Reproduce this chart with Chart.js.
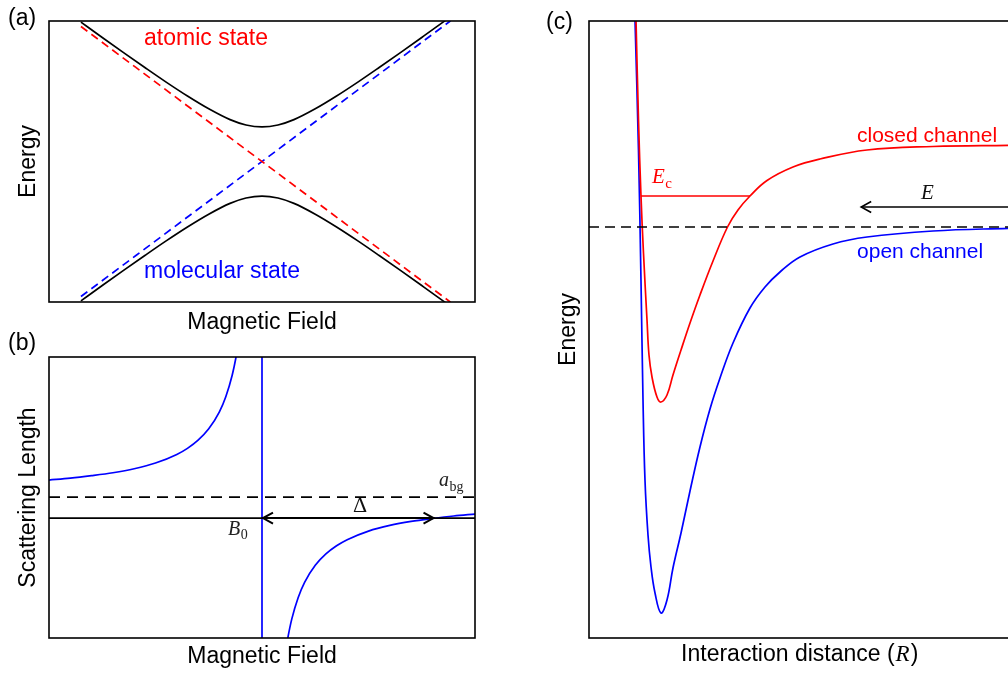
<!DOCTYPE html>
<html>
<head>
<meta charset="utf-8">
<script src="https://cdn.jsdelivr.net/npm/chart.js@4/dist/chart.umd.min.js"></script>
<style>
  body { margin: 0; width: 1008px; height: 673px; overflow: hidden; background: #fff; position: relative; }
  canvas { position: absolute; }
</style>
</head>
<body>
<canvas id="chartA" width="480" height="340" style="left:0;top:0"></canvas>
<canvas id="chartB" width="480" height="343" style="left:0;top:330px"></canvas>
<canvas id="chartC" width="500" height="673" style="left:540px;top:0"></canvas>
<script>
// (a) avoided crossing of atomic and molecular levels
const fieldA = [-0.85, -0.75, -0.65, -0.55, -0.45, -0.35, -0.25, -0.15, -0.075, 0, 0.075, 0.15, 0.25, 0.35, 0.45, 0.55, 0.65, 0.75, 0.85, 0.885];
const upperLevel = [0.992, 0.883, 0.775, 0.669, 0.565, 0.466, 0.375, 0.298, 0.260, 0.246, 0.260, 0.298, 0.375, 0.466, 0.565, 0.669, 0.775, 0.883, 0.992, 1.031];
const lowerLevel = upperLevel.map(v => -v);
const bareField = [-0.85, 0.885];
const atomicLevel = [0.961, -1.001];
const molecularLevel = [-0.961, 1.001];

// (b) scattering length across the resonance
const fieldLeft = [-1, -0.9, -0.8, -0.7, -0.6, -0.5, -0.4, -0.35, -0.3, -0.25, -0.2, -0.17, -0.14, -0.12, -0.11];
const scatLeft = [1.81, 1.9, 2.02, 2.16, 2.35, 2.62, 3.03, 3.32, 3.71, 4.25, 5.06, 5.78, 6.8, 7.77, 8.38];
const fieldRight = [0.11, 0.12, 0.14, 0.17, 0.2, 0.25, 0.3, 0.35, 0.4, 0.5, 0.6, 0.7, 0.8, 0.9, 1.0];
const scatRight = [-6.38, -5.77, -4.8, -3.78, -3.06, -2.25, -1.71, -1.32, -1.03, -0.62, -0.35, -0.16, -0.02, 0.1, 0.19];
const B0 = 0;
const widthDelta = 0.81;
const aBg = 1;
const scatRange = [-5.71, 7.67];

// (c) open and closed channel potentials
const distOpen = [1.070, 1.151, 1.209, 1.256, 1.302, 1.372, 1.442, 1.535, 1.674, 1.814, 1.953, 2.140, 2.349, 2.581, 2.814, 3.047, 3.349, 3.744, 4.093, 4.442, 4.907, 5.674, 6.465, 8.0, 9.744, 10];
const energyOpen = [2.07, 0.77, -0.53, -1.73, -2.53, -3.08, -3.40, -3.66, -3.86, -3.73, -3.41, -3.06, -2.64, -2.20, -1.82, -1.51, -1.16, -0.81, -0.60, -0.45, -0.30, -0.17, -0.10, -0.04, -0.013, -0.012];
const distClosed = [1.093, 1.151, 1.209, 1.267, 1.349, 1.395, 1.465, 1.581, 1.674, 1.814, 1.953, 2.140, 2.349, 2.581, 2.884, 3.221, 3.465, 3.744, 4.140, 4.744, 5.372, 6.465, 8.0, 9.744, 10];
const energyClosed = [2.07, 1.07, 0.31, -0.26, -0.93, -1.28, -1.50, -1.70, -1.75, -1.68, -1.48, -1.23, -0.96, -0.68, -0.34, 0, 0.17, 0.31, 0.465, 0.60, 0.68, 0.77, 0.805, 0.817, 0.818];
const boundEnergy = 0.31;
const boundRange = [1.209, 3.744];
const collisionEnergy = 0.20;
const arrowStart = 6.33;
const energyRange = [-4.11, 2.06];

const sans = '"Liberation Sans", Arial, sans-serif';
const serif = '"Liberation Serif", "DejaVu Serif", serif';

function pts(xs, ys) {
  return xs.map((x, i) => ({ x: x, y: ys[i] }));
}

function curve(xs, ys, color, dash, smooth) {
  const ds = {
    data: pts(xs, ys),
    borderColor: color,
    borderWidth: 1.7,
    borderDash: dash || [],
    pointRadius: 0,
    fill: false
  };
  if (smooth) ds.tension = smooth;
  else ds.cubicInterpolationMode = 'monotone';
  return ds;
}

function axis(min, max, title, pad) {
  return {
    type: 'linear',
    min: min,
    max: max,
    ticks: { display: false },
    grid: { display: false, drawTicks: false },
    border: { display: false },
    title: {
      display: !!title,
      text: title,
      color: '#000',
      font: { family: sans, size: 23 },
      padding: pad
    }
  };
}

function text(ctx, s, x, y, font, color, align) {
  ctx.font = font;
  ctx.fillStyle = color;
  ctx.textAlign = align || 'left';
  ctx.textBaseline = 'alphabetic';
  ctx.fillText(s, x, y);
}

function mathText(ctx, main, sub, x, y, size, color) {
  ctx.fillStyle = color;
  ctx.textAlign = 'left';
  ctx.textBaseline = 'alphabetic';
  ctx.font = 'italic ' + size + 'px ' + serif;
  ctx.fillText(main, x, y);
  if (sub) {
    const w = ctx.measureText(main).width;
    ctx.font = Math.round(size * 0.72) + 'px ' + serif;
    ctx.fillText(sub, x + w + 0.5, y + size * 0.22);
  }
}

// open chevron head; dir = 1 points left, -1 points right
function head(ctx, x, y, dir) {
  ctx.beginPath();
  ctx.moveTo(x + dir * 10, y - 5.5);
  ctx.lineTo(x, y);
  ctx.lineTo(x + dir * 10, y + 5.5);
  ctx.stroke();
}

function frame(notes) {
  return {
    id: 'frame',
    afterDatasetsDraw(chart) {
      const { ctx, chartArea: a, scales } = chart;
      ctx.save();
      ctx.strokeStyle = '#000';
      ctx.lineWidth = 1.6;
      ctx.strokeRect(a.left, a.top, a.right - a.left, a.bottom - a.top);
      notes(ctx, scales.x, scales.y);
      ctx.restore();
    }
  };
}

function baseOptions(scales, padding) {
  return {
    responsive: false,
    animation: false,
    layout: { padding: padding },
    plugins: { legend: { display: false }, tooltip: { enabled: false } },
    scales: scales
  };
}

new Chart(document.getElementById('chartA'), {
  type: 'line',
  data: {
    datasets: [
      curve(bareField, atomicLevel, '#ff0000', [8, 5]),
      curve(bareField, molecularLevel, '#0000ff', [8, 5]),
      curve(fieldA, upperLevel, '#000'),
      curve(fieldA, lowerLevel, '#000')
    ]
  },
  options: baseOptions({
    x: axis(-1, 1, 'Magnetic Field', { top: 7, bottom: 0 }),
    y: axis(-1, 1, 'Energy', { top: 4, bottom: 7 })
  }, { left: 10.4, right: 5, top: 21, bottom: 3.4 }),
  plugins: [frame((ctx, x, y) => {
    text(ctx, '(a)', 8, 25, '23px ' + sans, '#000');
    text(ctx, 'atomic state', x.getPixelForValue(-0.554), y.getPixelForValue(0.829), '23px ' + sans, '#ff0000');
    text(ctx, 'molecular state', x.getPixelForValue(-0.554), y.getPixelForValue(-0.829), '23px ' + sans, '#0000ff');
  })]
});

new Chart(document.getElementById('chartB'), {
  type: 'line',
  data: {
    datasets: [
      curve([-1, 1], [aBg, aBg], '#000', [11, 7]),
      curve([-1, 1], [0, 0], '#000'),
      curve([B0, B0], scatRange, '#0000ff'),
      curve(fieldLeft, scatLeft, '#0000ff'),
      curve(fieldRight, scatRight, '#0000ff')
    ]
  },
  options: baseOptions({
    x: axis(-1, 1, 'Magnetic Field', { top: 4.6, bottom: 0 }),
    y: axis(scatRange[0], scatRange[1], 'Scattering Length', { top: 4, bottom: 7 })
  }, { left: 10.4, right: 5, top: 27, bottom: 2.8 }),
  plugins: [frame((ctx, x, y) => {
    text(ctx, '(b)', 8, 20, '23px ' + sans, '#000');
    const y0 = y.getPixelForValue(0);
    const xa = x.getPixelForValue(B0);
    const xb = x.getPixelForValue(B0 + widthDelta);
    ctx.strokeStyle = '#000';
    ctx.lineWidth = 2;
    ctx.beginPath();
    ctx.moveTo(xa, y0);
    ctx.lineTo(xb, y0);
    ctx.stroke();
    head(ctx, xa + 1, y0, 1);
    head(ctx, xb - 1, y0, -1);
    text(ctx, '\u0394', x.getPixelForValue(0.46), y.getPixelForValue(0.29), '22px ' + serif, '#111', 'center');
    mathText(ctx, 'B', '0', x.getPixelForValue(-0.16), y.getPixelForValue(-0.81), 20, '#222');
    mathText(ctx, 'a', 'bg', x.getPixelForValue(0.831), y.getPixelForValue(1.52), 20, '#222');
  })]
});

new Chart(document.getElementById('chartC'), {
  type: 'line',
  data: {
    datasets: [
      curve([0, 10], [0, 0], '#000', [10, 6]),
      curve(boundRange, [boundEnergy, boundEnergy], '#ff0000'),
      curve(distClosed, energyClosed, '#ff0000', null, 0.4),
      curve(distOpen, energyOpen, '#0000ff', null, 0.4)
    ]
  },
  options: baseOptions({
    x: axis(0, 10, '', 0),
    y: axis(energyRange[0], energyRange[1], 'Energy', { top: 4, bottom: 7 })
  }, { left: 10.4, right: 21, top: 21, bottom: 35 }),
  plugins: [frame((ctx, x, y) => {
    text(ctx, '(c)', 6, 29, '23px ' + sans, '#000');
    text(ctx, 'closed channel', x.getPixelForValue(6.233), y.getPixelForValue(0.85), '21px ' + sans, '#ff0000');
    text(ctx, 'open channel', x.getPixelForValue(6.233), y.getPixelForValue(-0.31), '21px ' + sans, '#0000ff');
    mathText(ctx, 'E', 'c', x.getPixelForValue(1.465), y.getPixelForValue(0.44), 21, '#ff0000');
    mathText(ctx, 'E', '', x.getPixelForValue(7.72), y.getPixelForValue(0.28), 21, '#111');
    const ye = y.getPixelForValue(collisionEnergy);
    const xs = x.getPixelForValue(arrowStart);
    ctx.strokeStyle = '#000';
    ctx.lineWidth = 1.6;
    ctx.beginPath();
    ctx.moveTo(x.getPixelForValue(10), ye);
    ctx.lineTo(xs, ye);
    ctx.stroke();
    head(ctx, xs, ye, 1);

    // x axis title with an italic R
    const base = y.bottom + 23;
    ctx.font = '23px ' + sans;
    const p1 = 'Interaction distance (';
    const w1 = ctx.measureText(p1).width;
    const w3 = ctx.measureText(')').width;
    ctx.font = 'italic 23px ' + serif;
    const w2 = ctx.measureText('R').width + 2;
    const left = x.getPixelForValue(4.9) - (w1 + w2 + w3) / 2;
    text(ctx, p1, left, base, '23px ' + sans, '#000');
    text(ctx, 'R', left + w1 + 1, base, 'italic 23px ' + serif, '#000');
    text(ctx, ')', left + w1 + w2, base, '23px ' + sans, '#000');
  })]
});
</script>
</body>
</html>
